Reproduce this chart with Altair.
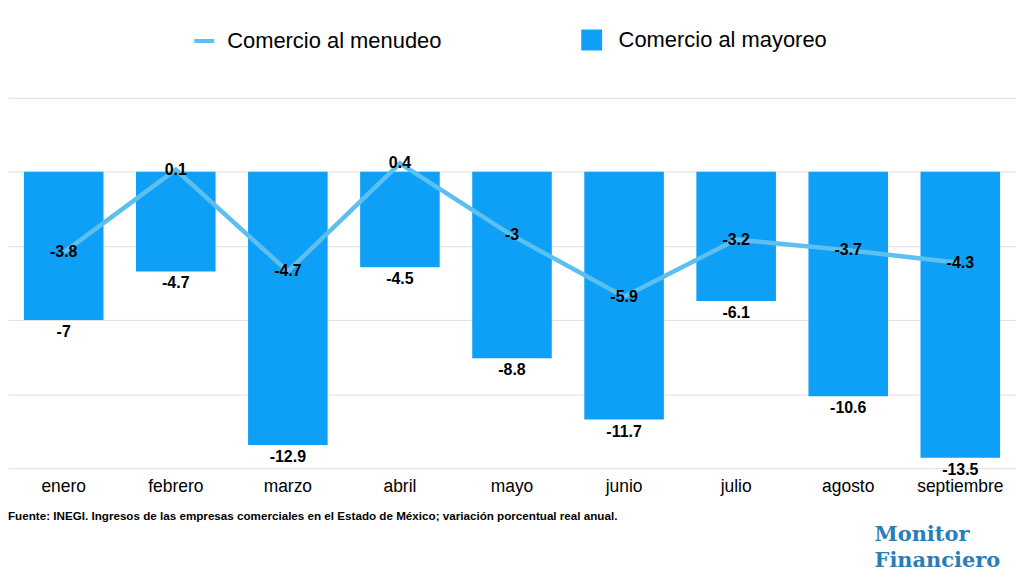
import altair as alt
import pandas as pd

months = ["enero", "febrero", "marzo", "abril", "mayo", "junio", "julio", "agosto", "septiembre"]
menudeo = [-3.8, 0.1, -4.7, 0.4, -3, -5.9, -3.2, -3.7, -4.3]
mayoreo = [-7, -4.7, -12.9, -4.5, -8.8, -11.7, -6.1, -10.6, -13.5]
serie_line = "Comercio al menudeo"
serie_bar = "Comercio al mayoreo"
footnote = "Fuente: INEGI. Ingresos de las empresas comerciales en el Estado de México; variación porcentual real anual."
logo_1 = "Monitor"
logo_2 = "Financiero"

df = pd.DataFrame({
    "mes": months,
    "menudeo": menudeo,
    "mayoreo": mayoreo,
    "menudeo_txt": [f"{v:g}" for v in menudeo],
    "mayoreo_txt": [f"{v:g}" for v in mayoreo],
    "s_line": [serie_line] * len(months),
    "s_bar": [serie_bar] * len(months),
})

FONT = "Liberation Sans"
BAR = "#0EA0F6"
LINE = "#5BBFF0"

x = alt.X("mes:N", sort=months, title=None,
          scale=alt.Scale(paddingInner=0.29, paddingOuter=0.142),
          axis=alt.Axis(labelAngle=0, ticks=False, domain=False, labelFontSize=17.5,
                        labelColor="#000000", labelFont=FONT, labelPadding=9, grid=False))
yscale = alt.Scale(domain=[-14, 3.5], nice=False)

base = alt.Chart(df)

bars = base.mark_bar().encode(
    x=x,
    y=alt.Y("mayoreo:Q", scale=yscale, title=None,
            axis=alt.Axis(labels=False, ticks=False, domain=False,
                          values=[3.5, 0, -3.5, -7, -10.5, -14],
                          gridColor="#DDDDDD", gridWidth=1)),
    fill=alt.Fill("s_bar:N", scale=alt.Scale(domain=[serie_bar], range=[BAR]),
                  legend=alt.Legend(orient="none", legendX=575, legendY=-69, title=None,
                                    symbolSize=441, symbolType="square", labelFontSize=22,
                                    labelFont=FONT, labelColor="#000000", labelOffset=16,
                                    labelLimit=400, padding=0, symbolStrokeWidth=0)),
)

bar_labels = base.mark_text(baseline="top", dy=4, fontSize=16, fontWeight="bold",
                            font=FONT, color="#000000").encode(
    x=alt.X("mes:N", sort=months),
    y=alt.Y("mayoreo:Q", scale=yscale),
    text=alt.Text("mayoreo_txt:N"),
)

line = base.mark_line(strokeWidth=4.5).encode(
    x=alt.X("mes:N", sort=months),
    y=alt.Y("menudeo:Q", scale=yscale),
    stroke=alt.Stroke("s_line:N", scale=alt.Scale(domain=[serie_line], range=[LINE]),
                      legend=alt.Legend(orient="none", legendX=185, legendY=-69, title=None,
                                        symbolSize=400, symbolStrokeWidth=4, labelFontSize=22,
                                        labelFont=FONT, labelColor="#000000", labelOffset=11,
                                        labelLimit=400, padding=0)),
)

line_labels = base.mark_text(baseline="middle", fontSize=16, fontWeight="bold",
                             font=FONT, color="#000000").encode(
    x=alt.X("mes:N", sort=months),
    y=alt.Y("menudeo:Q", scale=yscale),
    text=alt.Text("menudeo_txt:N"),
)

foot = alt.Chart(pd.DataFrame({"t": [footnote]})).mark_text(
    align="left", baseline="middle", fontSize=11.7, fontWeight="bold", font=FONT, color="#000000"
).encode(x=alt.value(0), y=alt.value(420), text="t:N")

logo_a = alt.Chart(pd.DataFrame({"t": [logo_1]})).mark_text(
    align="left", baseline="middle", fontSize=21, fontWeight="bold", font="DejaVu Serif", color="#2A7DB5"
).encode(x=alt.value(870), y=alt.value(439), text="t:N")

logo_b = alt.Chart(pd.DataFrame({"t": [logo_2]})).mark_text(
    align="left", baseline="middle", fontSize=21, fontWeight="bold", font="DejaVu Serif", color="#2A7DB5"
).encode(x=alt.value(870), y=alt.value(465), text="t:N")

chart = alt.layer(bars, line, bar_labels, line_labels, foot, logo_a, logo_b).properties(
    width=1012, height=372,
    background="white",
    autosize=alt.AutoSizeParams(type="none"),
    padding={"left": 0, "top": 89, "right": 0, "bottom": 106},
).configure_view(stroke=None)

chart.save("out.html", embed_options={"renderer": "svg", "actions": False})
